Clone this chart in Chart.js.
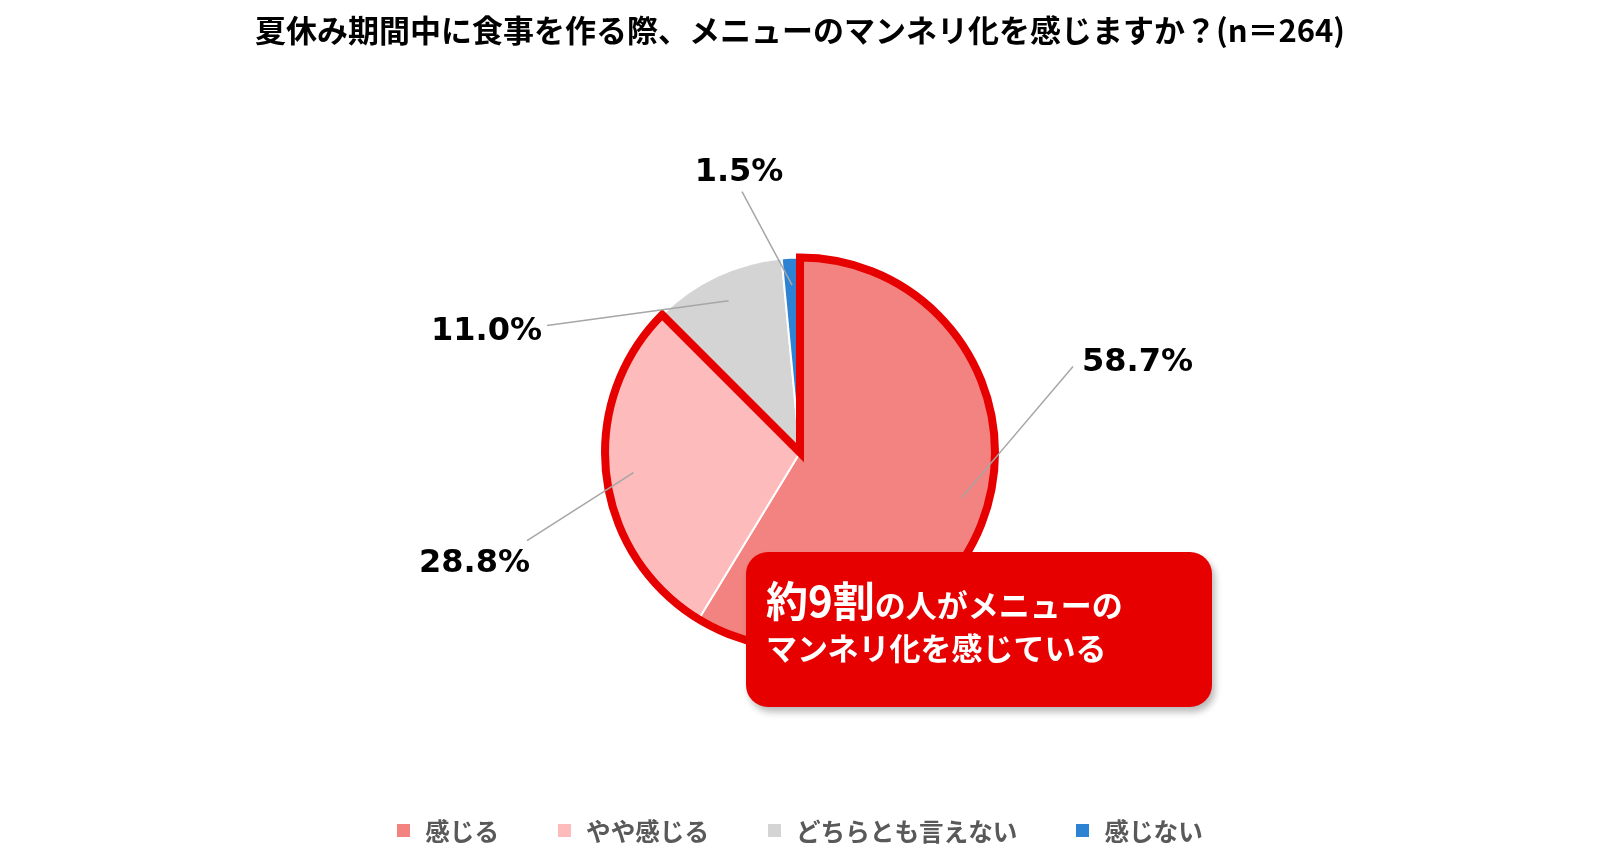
<!DOCTYPE html>
<html lang="ja">
<head>
<meta charset="utf-8">
<title>メニューのマンネリ化</title>
<script src="https://cdn.jsdelivr.net/npm/chart.js@4.4.1/dist/chart.umd.min.js"></script>
<style>
    html, body { margin: 0; padding: 0; background: #fff; }
    #wrap { position: relative; width: 1600px; height: 863px; overflow: hidden; }
    #legend {
        position: absolute; left: 0; right: 0; top: 814px; height: 32px;
        display: flex; justify-content: center; align-items: center; gap: 59px;
        font-family: "Noto Sans CJK JP", sans-serif; font-weight: 700; font-size: 24.6px; color: #595959;
    }
    #legend .item { display: flex; align-items: center; }
    #legend .box { width: 13px; height: 13px; margin-right: 15px; }
    #callout {
        position: absolute; left: 746px; top: 552px; width: 466px; height: 155px;
        background: #e60000; border-radius: 22px; box-shadow: 3px 5px 7px rgba(0, 0, 0, 0.28);
        font-family: "Noto Sans CJK JP", sans-serif; font-weight: 700; color: #fff;
        box-sizing: border-box; padding: 21px 0 0 20px;
    }
    #callout .l1 { font-size: 31px; line-height: 52px; height: 52px; }
    #callout .big { font-size: 42px; }
    #callout .l2 { font-size: 31px; line-height: 44px; }
</style>
</head>
<body>
<div id="wrap">
    <canvas id="pieChart"></canvas>
    <div id="legend"></div>
    <div id="callout">
        <div class="l1"><span class="big">約9割</span>の人がメニューの</div>
        <div class="l2">マンネリ化を感じている</div>
    </div>
</div>
<script>
const titleText = '夏休み期間中に食事を作る際、メニューのマンネリ化を感じますか？(n＝264)';
const categories = ['感じる', 'やや感じる', 'どちらとも言えない', '感じない'];
const values = [58.7, 28.8, 11.0, 1.5];
const colors = ['#f38381', '#fdbbbb', '#d4d4d4', '#2e82d4'];

// ラベルの位置 (円の中心からのずれ, px) と揃え方
const labelLayout = [
    { dx: 273, dy: -86, tx: 9, ty: -4, align: 'left' },
    { dx: -273, dy: 88, tx: 3, ty: 23, align: 'right' },
    { dx: -253, dy: -127, tx: -5, ty: 6, align: 'right' },
    { dx: -58, dy: -261, tx: -3, ty: -19, align: 'center' }
];

// 凡例 (HTML)
const legendEl = document.getElementById('legend');
categories.forEach((name, i) => {
    const item = document.createElement('div');
    item.className = 'item';
    item.innerHTML = `<span class="box" style="background:${colors[i]}"></span><span>${name}</span>`;
    legendEl.appendChild(item);
});

// 「感じる」+「やや感じる」を赤い枠で囲む
const outlinePlugin = {
    id: 'outline',
    afterDatasetsDraw(chart) {
        const arcs = chart.getDatasetMeta(0).data;
        const a = arcs[0], b = arcs[1];
        const ctx = chart.ctx;
        ctx.save();
        ctx.beginPath();
        ctx.arc(a.x, a.y, a.outerRadius, a.startAngle, b.endAngle);
        ctx.lineTo(a.x, a.y);
        ctx.closePath();
        ctx.lineWidth = 8;
        ctx.lineJoin = 'miter';
        ctx.strokeStyle = '#e60000';
        ctx.stroke();
        ctx.restore();
    }
};

// 引き出し線つきのラベル
const labelPlugin = {
    id: 'pieLabels',
    afterDraw(chart) {
        const ctx = chart.ctx;
        const arcs = chart.getDatasetMeta(0).data;
        ctx.save();
        arcs.forEach((arc, i) => {
            const mid = (arc.startAngle + arc.endAngle) / 2;
            const r0 = arc.outerRadius * 0.86;
            const sx = arc.x + Math.cos(mid) * r0;
            const sy = arc.y + Math.sin(mid) * r0;
            const L = labelLayout[i];
            const ex = arc.x + L.dx;
            const ey = arc.y + L.dy;
            ctx.beginPath();
            ctx.moveTo(sx, sy);
            ctx.lineTo(ex, ey);
            ctx.lineWidth = 1.5;
            ctx.strokeStyle = '#a6a6a6';
            ctx.stroke();
            ctx.font = 'bold 32px "DejaVu Sans", Verdana, sans-serif';
            ctx.fillStyle = '#000';
            ctx.textAlign = L.align;
            ctx.textBaseline = 'middle';
            ctx.fillText(values[i].toFixed(1) + '%', ex + L.tx, ey + L.ty);
        });
        ctx.restore();
    }
};

const ctx = document.getElementById('pieChart').getContext('2d');
new Chart(ctx, {
    type: 'pie',
    data: {
        labels: categories,
        datasets: [{
            data: values,
            backgroundColor: colors,
            borderColor: '#ffffff',
            borderWidth: 2
        }]
    },
    options: {
        responsive: true,
        maintainAspectRatio: false,
        animation: false,
        radius: 195,
        layout: { padding: { top: 0, bottom: 27, left: 0, right: 0 } },
        plugins: {
            legend: { display: false },
            tooltip: { enabled: false },
            title: {
                display: true,
                text: titleText,
                color: '#000',
                font: { family: '"Noto Sans CJK JP", sans-serif', size: 31, weight: 'bold' },
                padding: { top: 12, bottom: 20 }
            }
        }
    },
    plugins: [outlinePlugin, labelPlugin]
});
</script>
</body>
</html>
